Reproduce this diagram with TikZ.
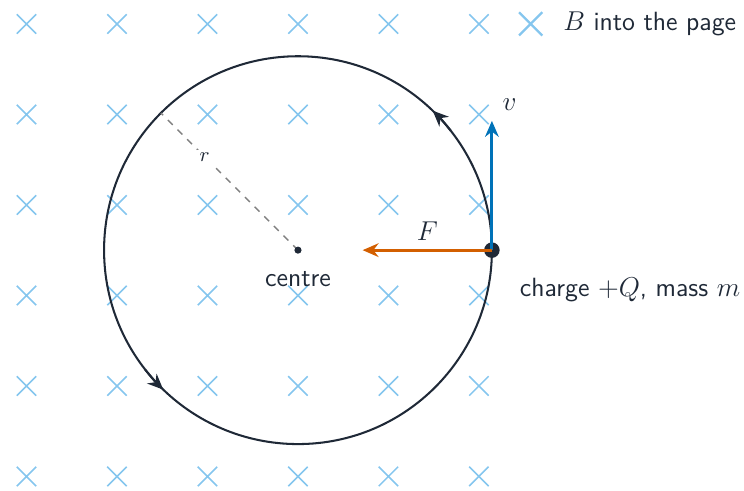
\documentclass[tikz,border=0pt]{standalone}
\usepackage{xcolor}
\usepackage{tikz}
\usetikzlibrary{arrows.meta,positioning}

\definecolor{ink}{HTML}{1F2937}
\definecolor{fieldblue}{HTML}{85C6EE}
\definecolor{velblue}{HTML}{0072B8}
\definecolor{forceorange}{HTML}{D35F00}

\begin{document}
\begin{tikzpicture}[
    font=\sffamily\fontsize{11.6pt}{14pt}\selectfont, text=ink,
    cross/.style={fieldblue, line width=0.7pt},
    orbit/.style={ink, line width=0.9pt},
    vec/.style={-{Stealth[length=7pt,width=6pt]}, line width=1.4pt},
    radius/.style={gray, dashed, line width=0.6pt},
    lbl/.style={text=ink}
  ]
    \useasboundingbox (-4.61,-3.72) rectangle (6.90,3.87);

    % magnetic field into the page
    \foreach \x in {-4.2,-2.8,...,2.9}
      \foreach \y in {-3.5,-2.1,...,3.6}
        \draw[cross] (\x-0.15,\y-0.15) -- (\x+0.15,\y+0.15)
                     (\x-0.15,\y+0.15) -- (\x+0.15,\y-0.15);

    % key
    \coordinate (key) at (3.6,3.5);
    \draw[cross, line width=1pt] (3.42,3.32) -- (3.78,3.68) (3.42,3.68) -- (3.78,3.32);
    \node[right=0.38cm of key, anchor=west] (keytxt) {$B$ into the page};

    % path of the charge
    \coordinate (centre) at (0,0);
    \coordinate (rim) at (135:3);
    \draw[orbit] (centre) circle (3cm);
    \draw[orbit, -{Stealth[length=7pt,width=6pt]}] (38:3) arc (38:46:3);
    \draw[orbit, -{Stealth[length=7pt,width=6pt]}] (218:3) arc (218:226:3);

    \draw[radius] (centre) -- node[lbl, pos=0.68, fill=white, inner sep=1pt, font=\small] {$r$} (rim);
    \fill[ink] (centre) circle (0.055);
    \node[below=0.2cm of centre] (centretxt) {centre};

    % charge and vectors
    \node[circle, fill=ink, minimum size=0.24cm, inner sep=0pt] (q) at (3,0) {};
    \coordinate (vtip) at (3,2);
    \coordinate (ftip) at (1,0);
    \draw[vec, velblue] (q.center) -- (vtip) node[lbl, above right=1pt] {$v$};
    \draw[vec, forceorange] (q.center) -- node[lbl, above] {$F$} (ftip);
    \node[below right=0.22cm and 0.22cm of q] (qtxt) {charge $+Q$, mass $m$};
\end{tikzpicture}
\end{document}
